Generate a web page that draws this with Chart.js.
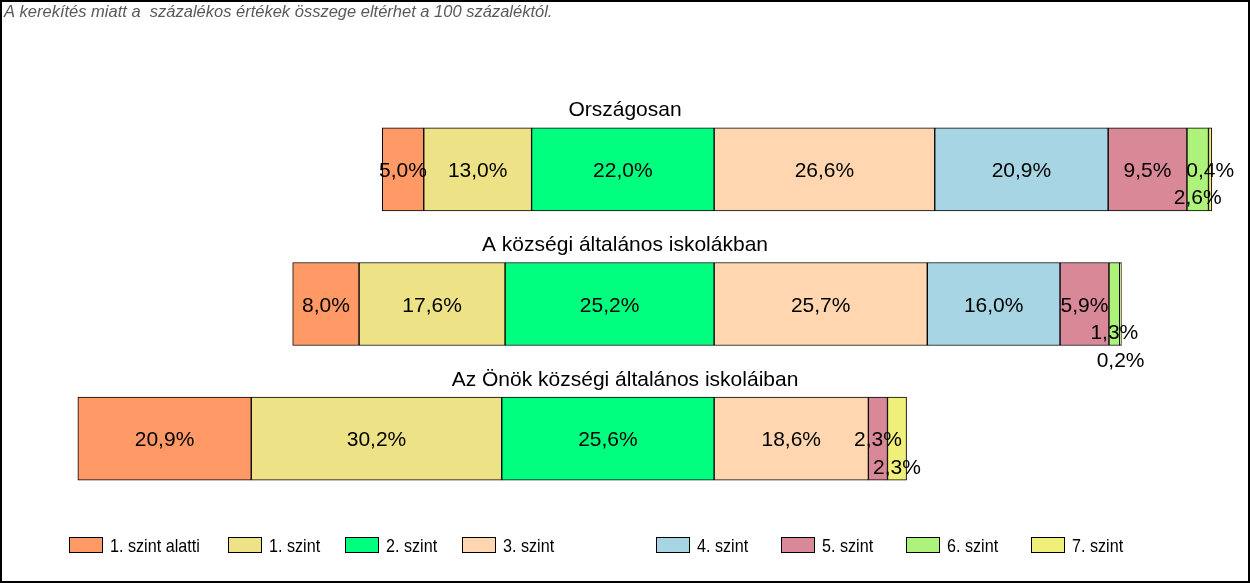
<!DOCTYPE html>
<html><head><meta charset="utf-8">
<script src="https://cdn.jsdelivr.net/npm/chart.js@4"></script>
<style>html,body{margin:0;padding:0;background:#fff}#wrap{width:1250px;height:583px}</style>
</head><body><div id="wrap"><canvas id="c" width="1250" height="583"></canvas></div>
<script>
const categories = ['Országosan', 'A községi általános iskolákban', 'Az Önök községi általános iskoláiban'];
const levels = ['1. szint alatti', '1. szint', '2. szint', '3. szint', '4. szint', '5. szint', '6. szint', '7. szint'];
const orszagosan = [5.0, 13.0, 22.0, 26.6, 20.9, 9.5, 2.6, 0.4];
const kozsegi = [8.0, 17.6, 25.2, 25.7, 16.0, 5.9, 1.3, 0.2];
const onok = [20.9, 30.2, 25.6, 18.6, 0, 2.3, 0, 2.3];
const noteText = 'A kerekítés miatt a  százalékos értékek összege eltérhet a 100 százaléktól.';

const rows = [orszagosan, kozsegi, onok];
const colors = ['#FF9966', '#EEE287', '#00FF7F', '#FFD6B0', '#A8D5E3', '#D98898', '#ADF27B', '#EFEF7A'];
const pivot = 3; // levels below "3. szint" sit left of the zero line
const FONT = "'Liberation Sans', Arial, sans-serif";
const labelLines = { '0-6': 1, '1-6': 1, '1-7': 2, '2-7': 1 };
const legendX = [69, 228, 345, 462, 656, 781, 906, 1031];

const sum = a => a.reduce((s, v) => s + v, 0);
const datasets = levels.map((lv, i) => ({
  label: lv,
  data: rows.map(r => {
    if (!r[i]) return null;
    const start = sum(r.slice(0, i)) - sum(r.slice(0, pivot));
    return [start, start + r[i]];
  }),
  backgroundColor: colors[i],
  borderColor: '#000',
  borderWidth: 1,
  borderSkipped: false,
  barThickness: 83
}));

const fmt = v => v.toFixed(1).replace('.', ',') + '%';

const decor = {
  id: 'decor',
  beforeDraw(chart) {
    const ctx = chart.ctx;
    ctx.save();
    ctx.fillStyle = '#fff';
    ctx.fillRect(0, 0, chart.width, chart.height);
    ctx.restore();
  },
  afterDatasetsDraw(chart) {
    const ctx = chart.ctx;
    ctx.save();
    ctx.fillStyle = '#000';
    ctx.textAlign = 'center';
    ctx.textBaseline = 'alphabetic';
    ctx.font = '21px ' + FONT;
    chart.data.datasets.forEach((ds, i) => {
      const meta = chart.getDatasetMeta(i);
      rows.forEach((r, ri) => {
        if (!r[i]) return;
        const el = meta.data[ri];
        const p = el.getCenterPoint();
        const shift = labelLines[ri + '-' + i] || 0;
        ctx.fillText(fmt(r[i]), p.x, p.y + 7.5 + shift * 27.5);
      });
    });
    // row titles
    const ys = chart.scales.y;
    categories.forEach((c, ri) => {
      ctx.fillText(c, chart.width / 2, ys.getPixelForValue(ri) - 53);
    });
    ctx.restore();
  },
  afterDraw(chart) {
    const ctx = chart.ctx;
    ctx.save();
    // note
    ctx.font = 'italic 16.5px ' + FONT;
    ctx.fillStyle = '#595959';
    ctx.textAlign = 'left';
    ctx.textBaseline = 'alphabetic';
    ctx.fillText(noteText, 4, 17);
    // legend
    ctx.font = '19px ' + FONT;
    levels.forEach((lv, i) => {
      const x = legendX[i];
      ctx.fillStyle = colors[i];
      ctx.fillRect(x, 537, 34, 16);
      ctx.strokeStyle = '#000';
      ctx.lineWidth = 1;
      ctx.strokeRect(x + 0.5, 537.5, 33, 15);
      ctx.fillStyle = '#000';
      const w = ctx.measureText(lv).width;
      ctx.fillText(lv, x + 41, 552, w * 0.85);
    });
    // outer frame
    ctx.strokeStyle = '#000';
    ctx.lineWidth = 2;
    ctx.strokeRect(1, 1, 1248, 581);
    ctx.restore();
  }
};

new Chart(document.getElementById('c'), {
  type: 'bar',
  data: { labels: categories, datasets },
  options: {
    responsive: false,
    animation: false,
    devicePixelRatio: 1,
    indexAxis: 'y',
    layout: { padding: { left: 9, right: 5, top: 102, bottom: 77 } },
    scales: {
      x: { display: false, min: -85, max: 64 },
      y: { display: false, stacked: true }
    },
    plugins: { legend: { display: false }, tooltip: { enabled: false } }
  },
  plugins: [decor]
});
</script>
</body></html>
